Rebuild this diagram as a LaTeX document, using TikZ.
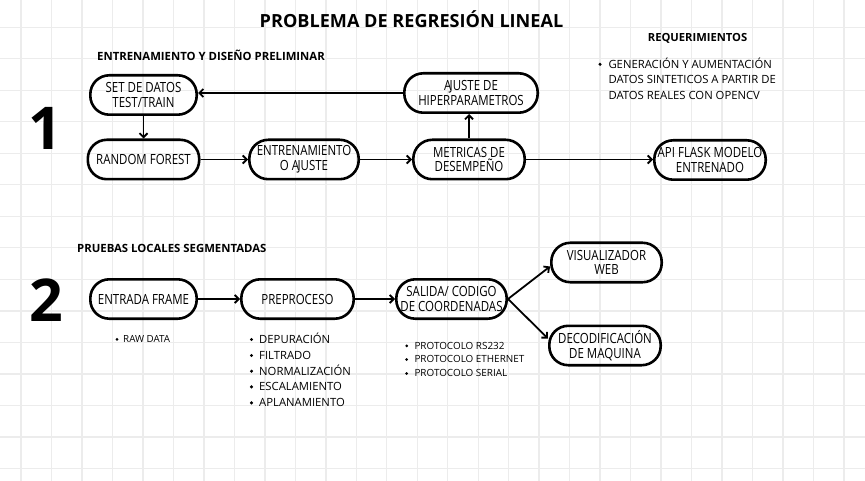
\documentclass[tikz,border=0pt]{standalone}
\usepackage{fontspec}
\setmainfont{Open Sans}
\newfontfamily\nf{Open Sans}[FakeStretch=0.82]
\usetikzlibrary{arrows.meta}
\definecolor{gridc}{RGB}{236,236,236}
\newcommand{\AJ}{A\kern-1.6pt J}
\begin{document}
\begin{tikzpicture}[x=1pt,y=-1pt,
  gridline/.style={draw=gridc, line width=1.4pt},
  box/.style={draw, line width=2.6pt, rounded corners=19pt, minimum height=39.4pt,
    inner sep=0pt, align=center, font=\nf\fontsize{14}{14.7}\selectfont},
  arr/.style={line width=1.8pt, -{Straight Barb[length=4pt,width=8pt]}},
  hdr/.style={anchor=base west, inner sep=0pt, font=\bfseries\fontsize{11.35}{13}\selectfont},
  li/.style={anchor=base west, inner sep=0pt, font=\fontsize{11.3}{14}\selectfont},
  lis/.style={anchor=base west, inner sep=0pt, font=\fontsize{9.9}{12}\selectfont},
  dot/.style={circle, fill, inner sep=0pt, minimum size=3.4pt},
  dots/.style={circle, fill, inner sep=0pt, minimum size=3pt},
  big/.style={anchor=base, inner sep=0pt, font=\bfseries\fontsize{59}{60}\selectfont}
]
\fill[white] (0,0) rectangle (865,481);
\useasboundingbox (0,0) rectangle (865,481);
\foreach \i in {0,...,27} \draw[gridline] ({21+30.48*\i},0) -- ({21+30.48*\i},481);
\foreach \j in {0,...,14} \draw[gridline] (0,{27.3+31.5*\j}) -- (865,{27.3+31.5*\j});

% titles
\node[anchor=base, inner sep=0pt, font=\bfseries\fontsize{18.1}{20}\selectfont] (title) at (411.5,27.7) {PROBLEMA DE REGRESIÓN LINEAL};
\node[hdr] (h1) at (97,61) {ENTRENAMIENTO Y DISEÑO PRELIMINAR};
\node[hdr, font=\bfseries\fontsize{11.2}{13}\selectfont] (req) at (647.7,42) {REQUERIMIENTOS};
\node[hdr] (h2) at (77,252.7) {PRUEBAS LOCALES SEGMENTADAS};
\node[big] (n1) at (45,150) {1};
\node[big] (n2) at (46.7,321.7) {2};

% requirements list
\node[dot] (rb1) at (600,64.3) {};
\node[li] (r1) at (608.3,68.3) {GENERACIÓN Y AUMENTACIÓN};
\node[li] (r2) at (608.3,83.8) {DATOS SINTETICOS A PARTIR DE};
\node[li] (r3) at (608.3,99.3) {DATOS REALES CON OPENCV};

% row 1 boxes
\node[box, minimum width=106.4pt] (set) at (143.5,95) {SET DE DATOS\\TEST/TRAIN};
\node[box, minimum width=111.4pt] (rf) at (143.5,159.5) {RANDOM FOREST};
\node[box, minimum width=109.4pt] (ent) at (304,159.5) {ENTRENAMIENTO\\O \AJ USTE};
\node[box, minimum width=111.4pt] (met) at (469,159.5) {METRICAS DE\\DESEMPEÑO};
\node[box, minimum width=133.4pt] (hip) at (471,93) {\AJ USTE DE\\HIPERPARAMETROS};
\node[box, minimum width=111.4pt] (api) at (710,160) {API FLASK MODELO\\ENTRENADO};

\draw[arr] (set.south) -- (rf.north);
\draw[arr] (rf.east) -- (ent.west);
\draw[arr] (ent.east) -- (met.west);
\draw[arr] (met.north) -- (met.north |- hip.south);
\draw[arr] (hip.west) -- (hip.west -| set.east);
\draw[arr] (met.east) -- (met.east -| api.west);

% row 2 boxes
\node[box, minimum width=106.4pt] (ef) at (143.5,299) {ENTRADA FRAME};
\node[box, minimum width=112.4pt] (pre) at (297.5,299) {PREPROCESO};
\node[box, minimum width=110.4pt] (sal) at (451.5,299) {SALIDA/ CODIGO\\DE COORDENADAS};
\node[box, minimum width=110.4pt] (vis) at (606.5,262.5) {VISUALIZADOR\\WEB};
\node[box, minimum width=111.4pt] (dec) at (605,345.5) {DECODIFICACIÓN\\DE MAQUINA};

\draw[arr] (ef.east) -- (pre.west);
\draw[arr] (pre.east) -- (sal.west);
\draw[arr] (sal.east) -- ([yshift=-4pt]vis.west);
\draw[arr] (sal.east) -- ([yshift=7pt]dec.west);

% lists row 2
\node[dots] (rwb) at (117,339.3) {};
\node[lis, font=\fontsize{9.8}{12}\selectfont] (rw) at (123,342.7) {RAW DATA};

\node[dot] (pb1) at (251.5,339.5) {};
\node[li] (p1) at (259,343.3) {DEPURACIÓN};
\node[dot] (pb2) at (251.5,355.5) {};
\node[li] (p2) at (259,359.3) {FILTRADO};
\node[dot] (pb3) at (251.5,371.2) {};
\node[li] (p3) at (259,375) {NORMALIZACIÓN};
\node[dot] (pb4) at (251.5,386.9) {};
\node[li] (p4) at (259,390.7) {ESCALAMIENTO};
\node[dot] (pb5) at (251.5,402.9) {};
\node[li] (p5) at (259,406.7) {APLANAMIENTO};

\node[dots] (sb1) at (406.7,345.8) {};
\node[lis] (s1) at (414.3,349) {PROTOCOLO RS232};
\node[dots] (sb2) at (406.7,359.5) {};
\node[lis] (s2) at (414.3,362.7) {PROTOCOLO ETHERNET};
\node[dots] (sb3) at (406.7,373.5) {};
\node[lis] (s3) at (414.3,376.7) {PROTOCOLO SERIAL};
\end{tikzpicture}
\end{document}
